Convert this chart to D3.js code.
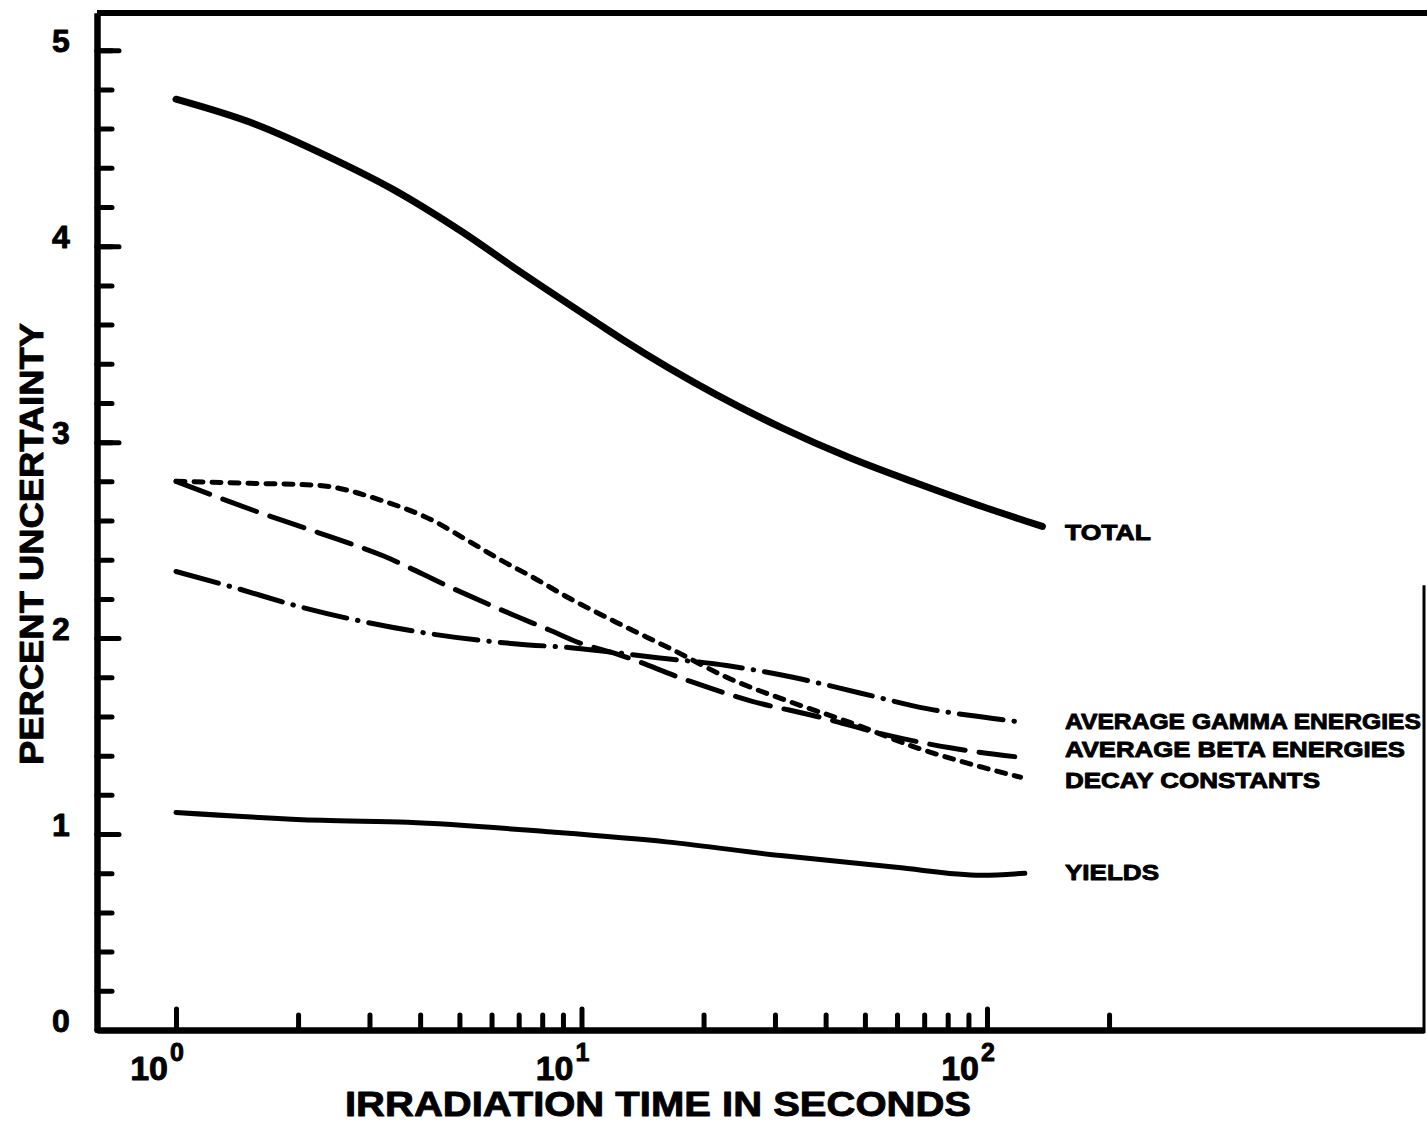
<!DOCTYPE html>
<html>
<head>
<meta charset="utf-8">
<script src="https://cdn.jsdelivr.net/npm/d3@7"></script>
<style>
body { margin: 0; background: #fff; }
svg text { font-family: "Liberation Sans", Arial, sans-serif; font-weight: bold; fill: #000; stroke: #000; stroke-width: 0.9; stroke-linejoin: round; }
</style>
</head>
<body>
<script>
const w = 1427;
const h = 1127;

// irradiation time (s) and percent uncertainty
const totalX = [1, 1.58, 2.36, 3.43, 5.02, 7.05, 10.9, 12.7, 21.6, 31.4, 45.9, 67.2, 97.7, 137];
const totalY = [4.75, 4.62, 4.46, 4.29, 4.08, 3.87, 3.61, 3.52, 3.24, 3.07, 2.92, 2.79, 2.67, 2.57];

const gammaX = [1, 1.38, 2.02, 2.96, 4.3, 6.93, 9.53, 15.4, 22.8, 33.2, 48.6, 71.1, 103.5, 123];
const gammaY = [2.34, 2.26, 2.16, 2.08, 2.02, 1.97, 1.95, 1.90, 1.86, 1.80, 1.72, 1.64, 1.59, 1.57];

const betaX = [1, 1.61, 2.23, 3.24, 4.74, 6.93, 8.36, 9.75, 12.2, 18.5, 26.1, 38.1, 55.4, 81.1, 123];
const betaY = [2.80, 2.64, 2.54, 2.42, 2.26, 2.11, 2.04, 1.98, 1.92, 1.78, 1.68, 1.60, 1.51, 1.44, 1.39];

const decayX = [1, 1.52, 2.23, 3.24, 4.3, 5.22, 6.3, 7.59, 9.21, 12.2, 16.8, 22.8, 33.2, 45.9, 67.2, 97.7, 121];
const decayY = [2.80, 2.79, 2.78, 2.70, 2.60, 2.50, 2.40, 2.31, 2.21, 2.08, 1.94, 1.80, 1.67, 1.57, 1.44, 1.34, 1.29];

const yieldsX = [1, 2.29, 3.73, 8.46, 16.2, 31, 59.7, 97, 124];
const yieldsY = [1.11, 1.07, 1.06, 1.01, 0.96, 0.89, 0.83, 0.79, 0.80];

const seriesNames = ["TOTAL", "AVERAGE GAMMA ENERGIES", "AVERAGE BETA ENERGIES", "DECAY CONSTANTS", "YIELDS"];
// value on the y axis where each name sits (baseline)
const nameAt = [2.50, 1.536, 1.393, 1.235, 0.766];

const yMajor = [0, 1, 2, 3, 4, 5];
const yMinor = d3.range(0, 26).map(i => i / 5);
const xMajor = [1, 10, 100];
const xExp = ["0", "1", "2"];
const xMinor = [2, 3, 4, 5, 6, 7, 8, 9, 20, 30, 40, 50, 60, 70, 80, 90, 200];

const xScale = d3.scaleLog()
                 .domain([0.6385, 1196])
                 .range([97, 1424]);

const yScale = d3.scaleLinear()
                 .domain([0, 5.19])
                 .range([1030, 13]);

const svg = d3.select("body")
              .append("svg")
              .attr("width", w)
              .attr("height", h);

// frame: top line and the part of the right edge that shows
svg.append("line")
   .attr("x1", 97).attr("x2", w)
   .attr("y1", yScale(5.19)).attr("y2", yScale(5.19))
   .attr("stroke", "#000").attr("stroke-width", 6);

svg.append("line")
   .attr("x1", 1424).attr("x2", 1424)
   .attr("y1", yScale(2.27)).attr("y2", yScale(0) + 3)
   .attr("stroke", "#000").attr("stroke-width", 3);

function styleAxis(g) {
  g.select(".domain").attr("stroke", "#000").attr("stroke-width", 6);
  g.selectAll(".tick line").attr("stroke", "#000").attr("stroke-width", 5).attr("stroke-linecap", "round");
  g.selectAll(".tick text").remove();
}

svg.append("g")
   .attr("transform", "translate(97,0)")
   .call(d3.axisRight(yScale).tickValues(yMinor).tickSize(15).tickSizeOuter(0))
   .call(styleAxis);

svg.append("g")
   .attr("transform", "translate(97,0)")
   .call(d3.axisRight(yScale).tickValues(yMajor).tickSize(22).tickSizeOuter(0))
   .call(styleAxis);

svg.append("g")
   .attr("transform", "translate(0,1030)")
   .call(d3.axisTop(xScale).tickValues(xMinor).tickSize(15).tickSizeOuter(0))
   .call(styleAxis);

svg.append("g")
   .attr("transform", "translate(0,1030)")
   .call(d3.axisTop(xScale).tickValues(xMajor).tickSize(21).tickSizeOuter(0))
   .call(styleAxis);

// y tick labels
svg.selectAll(".ylab")
   .data(yMajor)
   .enter()
   .append("text")
   .attr("class", "ylab")
   .attr("x", 61)
   .attr("y", d => yScale(d) + 2)
   .attr("text-anchor", "middle")
   .attr("font-size", 32)
   .text(d => d);

// x tick labels 10^n
const xl = svg.selectAll(".xlab")
              .data(xMajor)
              .enter()
              .append("g")
              .attr("class", "xlab");

xl.append("text")
  .attr("x", d => xScale(d) - 8)
  .attr("y", 1080)
  .attr("text-anchor", "end")
  .attr("font-size", 34)
  .text("10");

xl.append("text")
  .attr("x", d => xScale(d) - 6)
  .attr("y", 1061)
  .attr("font-size", 25)
  .text((d, i) => xExp[i]);

// axis titles
svg.append("text")
   .attr("x", 345)
   .attr("y", 1116)
   .attr("font-size", 35)
   .attr("textLength", 626)
   .attr("lengthAdjust", "spacingAndGlyphs")
   .text("IRRADIATION TIME IN SECONDS");

svg.append("text")
   .attr("transform", "translate(43,765) rotate(-90)")
   .attr("font-size", 34)
   .attr("textLength", 442)
   .attr("lengthAdjust", "spacingAndGlyphs")
   .text("PERCENT UNCERTAINTY");

// curves
const series = [
  { xs: totalX,  ys: totalY,  width: 7, dash: null },
  { xs: gammaX,  ys: gammaY,  width: 5, dash: "44 11 0.5 11" },
  { xs: betaX,   ys: betaY,   width: 5, dash: "36 14" },
  { xs: decayX,  ys: decayY,  width: 5, dash: "9 9" },
  { xs: yieldsX, ys: yieldsY, width: 5, dash: null }
];

const line = d3.line()
               .x(d => xScale(d[0]))
               .y(d => yScale(d[1]))
               .curve(d3.curveMonotoneX);

svg.selectAll(".curve")
   .data(series)
   .enter()
   .append("path")
   .attr("class", "curve")
   .attr("d", s => line(s.xs.map((v, i) => [v, s.ys[i]])))
   .attr("fill", "none")
   .attr("stroke", "#000")
   .attr("stroke-width", s => s.width)
   .attr("stroke-linecap", "round")
   .attr("stroke-linejoin", "round")
   .attr("stroke-dasharray", s => s.dash);

// series names at the right
const nameLen = [86, 356, 340, 255, 94];
svg.selectAll(".name")
   .data(seriesNames)
   .enter()
   .append("text")
   .attr("class", "name")
   .attr("x", 1065)
   .attr("y", (d, i) => yScale(nameAt[i]))
   .attr("font-size", 22)
   .attr("textLength", (d, i) => nameLen[i])
   .attr("lengthAdjust", "spacingAndGlyphs")
   .text(d => d);
</script>
</body>
</html>
